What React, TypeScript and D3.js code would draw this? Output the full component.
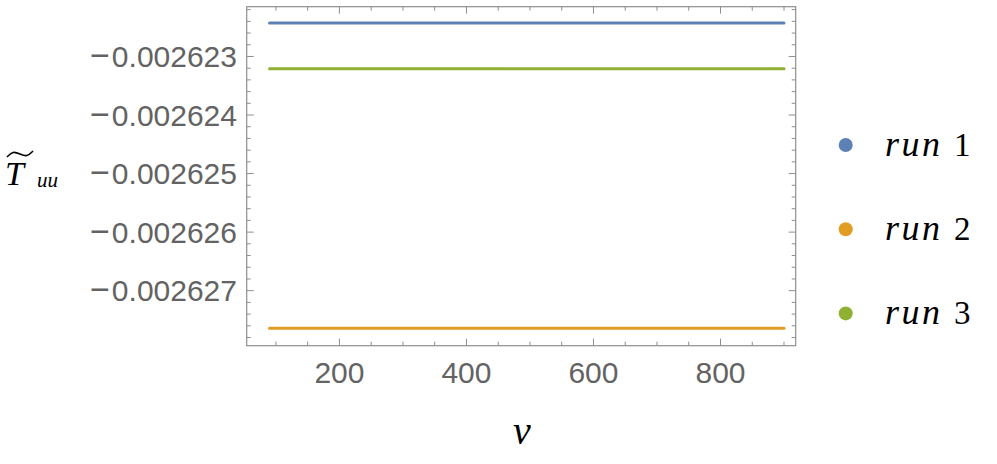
import React from "react";
import * as d3 from "d3";

const seriesNames = ["run", "run", "run"];
const seriesNumbers = ["1", "2", "3"];
const seriesColors = ["#5E81B5", "#E19C24", "#8FB032"];
const seriesValues = [-0.00262243, -0.00262764, -0.00262321];
const xStart = 90;
const xEnd = 900;
const xMajorTicks = [200, 400, 600, 800];
const yMajorTicks = [-0.002623, -0.002624, -0.002625, -0.002626, -0.002627];
const yTickLabels = ["0.002623", "0.002624", "0.002625", "0.002626", "0.002627"];

const W = 997;
const H = 464;
const left = 246.7;
const right = 795.7;
const top = 6.7;
const bottom = 345.7;

export default function App() {
  const x = d3.scaleLinear().domain([54, 918.4]).range([left, right]);
  const y = d3.scaleLinear().domain([-0.00262794, -0.00262215]).range([bottom, top]);
  const xMinor = d3.range(100, 901, 50);
  const yMinor = d3.range(-13139, -13110).map((k) => k * 2e-7);
  const line = d3.line<[number, number]>().x((d) => x(d[0])).y((d) => y(d[1]));
  const tilde = d3.line<[number, number]>().curve(d3.curveBasis);
  const frame = "#8e8e8e";
  const labelColor = "#636363";
  return (
    <svg width={W} height={H} style={{ position: "absolute", left: 0, top: 0, background: "#fff" }}>
      <rect x={0} y={0} width={W} height={H} fill="#fff" />
      {seriesValues.map((v, i) => (
        <path key={i} d={line([[xStart, v], [xEnd, v]]) || ""} stroke={seriesColors[i]} strokeWidth={3} fill="none" strokeLinecap="round" />
      ))}
      <rect x={left} y={top} width={right - left} height={bottom - top} fill="none" stroke={frame} strokeWidth={1.2} />
      {xMinor.map((t) => {
        const major = xMajorTicks.includes(t);
        const len = major ? 7 : 4;
        return (
          <g key={"x" + t}>
            <line x1={x(t)} x2={x(t)} y1={bottom} y2={bottom - len} stroke={frame} strokeWidth={1} />
            <line x1={x(t)} x2={x(t)} y1={top} y2={top + len} stroke={frame} strokeWidth={1} />
          </g>
        );
      })}
      {yMinor.map((t, i) => {
        const major = Math.round(t / 2e-7) % 5 === 0;
        const len = major ? 7 : 4;
        return (
          <g key={"y" + i}>
            <line x1={left} x2={left + len} y1={y(t)} y2={y(t)} stroke={frame} strokeWidth={1} />
            <line x1={right} x2={right - len} y1={y(t)} y2={y(t)} stroke={frame} strokeWidth={1} />
          </g>
        );
      })}
      {xMajorTicks.map((t) => (
        <text key={"xl" + t} x={x(t)} y={383.3} textAnchor="middle" fontFamily="Liberation Sans, Arial, sans-serif" fontSize={30} fill={labelColor}>
          {t}
        </text>
      ))}
      {yMajorTicks.map((t, i) => (
        <text key={"yl" + i} x={237} y={y(t) + 10.5} textAnchor="end" fontFamily="Liberation Sans, Arial, sans-serif" fontSize={30} fill={labelColor}>
          <tspan fontSize={34}>{"\u2212"}</tspan>
          <tspan dx={2}>{yTickLabels[i]}</tspan>
        </text>
      ))}
      <text x={522} y={444} textAnchor="middle" fontFamily="Liberation Serif, serif" fontStyle="italic" fontSize={40} fill="#000">v</text>
      <g fontFamily="Liberation Serif, serif" fill="#000">
        <path d={tilde([[7, 157], [13, 151], [20, 154], [27, 157], [33, 151]]) || ""} stroke="#000" strokeWidth={1.6} fill="none" />
        <text x={5} y={185} fontStyle="italic" fontSize={34}>T</text>
        <text x={37} y={187} fontStyle="italic" fontSize={21}>uu</text>
      </g>
      {seriesNames.map((n, i) => {
        const cy = 145 + i * 84.2;
        return (
          <g key={"lg" + i}>
            <circle cx={845.7} cy={cy} r={7} fill={seriesColors[i]} />
            <text x={885} y={cy + 11} fontFamily="Liberation Serif, serif" fontSize={36} fill="#000">
              <tspan fontStyle="italic" letterSpacing={2.5}>{n}</tspan>
              <tspan x={954} fontSize={33}>{seriesNumbers[i]}</tspan>
            </text>
          </g>
        );
      })}
    </svg>
  );
}
